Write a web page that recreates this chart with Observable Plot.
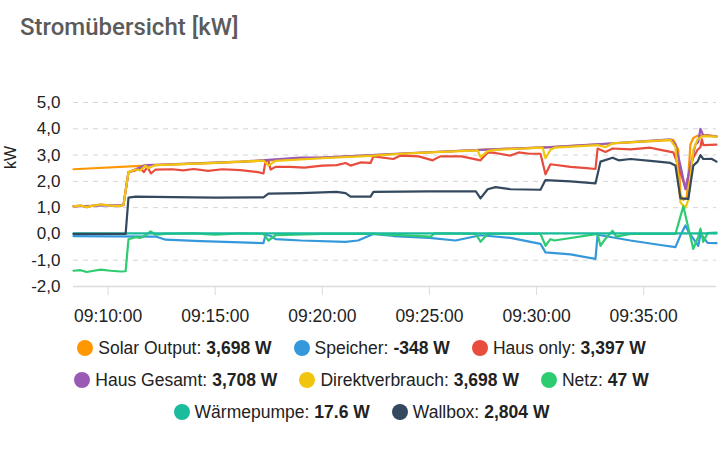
<!DOCTYPE html>
<html><head><meta charset="utf-8">
<script src="https://cdn.jsdelivr.net/npm/d3@7"></script>
<script src="https://cdn.jsdelivr.net/npm/@observablehq/plot@0.6"></script>
<style>
html,body{margin:0;padding:0;background:#fff;}
#card{position:relative;width:723px;height:450px;overflow:hidden;background:#fff;}
#title{position:absolute;left:20px;top:13px;font-family:Roboto,"Noto Sans",sans-serif;font-weight:500;font-size:24px;color:#5b5b5b;}
#ylab{position:absolute;left:1px;top:150px;transform:rotate(-90deg);transform-origin:center;font-family:"Liberation Sans",Arial,sans-serif;font-size:16px;color:#222;width:20px;text-align:center;}
#chart{position:absolute;left:0;top:85px;}
#legend{position:absolute;left:0;top:332px;width:723px;font-family:"Liberation Sans",Arial,sans-serif;font-size:17.5px;color:#222;}
.row{display:flex;justify-content:center;height:32px;align-items:center;}
.item{display:flex;align-items:center;margin:0 11px;}
.dot{width:16px;height:16px;border-radius:50%;margin-right:5px;}
.item b{margin-left:5px;}
</style></head>
<body><div id="card">
<div id="title">Stromübersicht [kW]</div>
<div id="ylab">kW</div>
<div id="chart"></div>
<div id="legend"></div>
</div>
<script>
const seriesNames = ["Solar Output","Speicher","Haus only","Haus Gesamt","Direktverbrauch","Netz","Wärmepumpe","Wallbox"];
const legendValues = ["3,698 W","-348 W","3,397 W","3,708 W","3,698 W","47 W","17.6 W","2,804 W"];
const colors = ["#FF9800","#3498DB","#E74C3C","#9B59B6","#F1C40F","#2ECC71","#1ABC9C","#34495E"];
const yTicks = [-2,-1,0,1,2,3,4,5];
const xDomain = ["09:08:23","09:38:24"];

const solar = [["09:08:23",2.46],["09:12:13",2.62],["09:16:11",2.74],["09:20:00",2.9],["09:23:39",3.05],["09:27:23",3.2],["09:30:39",3.3],["09:33:33",3.44],["09:35:47",3.55],["09:36:23",3.58],["09:36:37",3.2],["09:36:43",1.5],["09:36:51",1.3],["09:37:01",1.4],["09:37:11",3.4],["09:37:19",3.65],["09:37:31",3.74],["09:37:59",3.76],["09:38:24",3.70]];

const speicher = [["09:08:23",-0.08],["09:11:59",-0.1],["09:12:13",-0.1],["09:12:41",-0.22],["09:14:19",-0.27],["09:16:11",-0.32],["09:17:15",-0.35],["09:17:21",-0.03],["09:17:35",-0.08],["09:17:49",-0.2],["09:19:00",-0.25],["09:21:05",-0.3],["09:21:40",-0.25],["09:22:23",0.0],["09:23:19",-0.08],["09:25:00",-0.15],["09:26:13",-0.25],["09:27:23",-0.05],["09:28:47",-0.15],["09:30:11",-0.38],["09:30:25",-0.7],["09:31:35",-0.78],["09:32:45",-0.95],["09:32:51",-0.03],["09:34:23",-0.25],["09:35:47",-0.42],["09:36:29",-0.5],["09:36:43",-0.05],["09:36:57",0.32],["09:37:05",0.1],["09:37:19",-0.18],["09:37:33",-0.45],["09:37:39",0.0],["09:37:47",-0.12],["09:37:59",-0.34],["09:38:24",-0.35]];

const hausOnly = [["09:08:23",1.05],["09:08:43",1.08],["09:09:00",1.02],["09:09:11",1.06],["09:09:39",1.12],["09:10:07",1.08],["09:10:35",1.06],["09:10:43",1.1],["09:10:57",2.35],["09:11:17",2.42],["09:11:31",2.5],["09:11:40",2.35],["09:11:50",2.55],["09:12:00",2.3],["09:12:13",2.45],["09:13:00",2.46],["09:13:30",2.42],["09:14:00",2.47],["09:14:40",2.4],["09:15:20",2.46],["09:16:11",2.43],["09:17:00",2.35],["09:17:15",2.3],["09:17:21",2.78],["09:17:29",2.78],["09:17:35",2.45],["09:17:49",2.55],["09:18:30",2.55],["09:19:10",2.52],["09:20:00",2.6],["09:20:40",2.62],["09:21:05",2.7],["09:21:19",2.6],["09:21:47",2.72],["09:22:15",2.7],["09:22:23",2.95],["09:23:19",2.85],["09:23:39",2.98],["09:24:30",2.95],["09:25:09",2.8],["09:25:30",2.95],["09:26:30",2.95],["09:27:23",2.8],["09:27:43",3.1],["09:28:05",3.08],["09:28:47",2.98],["09:29:10",3.1],["09:29:40",3.05],["09:30:11",3.05],["09:30:25",2.27],["09:30:39",2.65],["09:31:35",2.55],["09:32:20",2.5],["09:32:45",2.47],["09:32:51",3.25],["09:33:13",3.12],["09:33:33",3.25],["09:34:23",3.22],["09:35:19",3.28],["09:35:47",3.2],["09:36:23",3.1],["09:36:37",2.6],["09:36:57",1.75],["09:37:11",2.5],["09:37:19",2.9],["09:37:31",3.2],["09:37:39",3.3],["09:37:43",3.6],["09:37:47",3.38],["09:38:24",3.40]];

const hausGesamt = [["09:08:23",1.05],["09:10:43",1.1],["09:10:57",2.35],["09:11:45",2.62],["09:12:13",2.63],["09:16:11",2.75],["09:18:59",2.9],["09:20:00",2.9],["09:23:39",3.06],["09:27:23",3.2],["09:30:39",3.3],["09:33:33",3.45],["09:36:15",3.6],["09:36:29",3.4],["09:36:43",2.6],["09:36:57",1.7],["09:37:11",2.6],["09:37:25",3.4],["09:37:33",3.5],["09:37:39",4.0],["09:37:47",3.75],["09:38:24",3.71]];

const direkt = [["09:08:23",1.05],["09:08:43",1.08],["09:09:00",1.02],["09:09:11",1.06],["09:09:39",1.12],["09:10:07",1.08],["09:10:35",1.06],["09:10:43",1.1],["09:10:57",2.35],["09:11:17",2.45],["09:11:31",2.42],["09:11:45",2.6],["09:11:52",2.5],["09:12:13",2.62],["09:15:00",2.7],["09:17:15",2.79],["09:17:29",2.6],["09:17:49",2.78],["09:20:00",2.88],["09:22:15",2.97],["09:23:39",3.05],["09:25:03",3.1],["09:27:15",3.18],["09:27:23",2.92],["09:27:43",3.15],["09:28:05",3.2],["09:30:17",3.28],["09:30:25",2.88],["09:30:39",3.2],["09:30:50",3.28],["09:32:51",3.38],["09:33:13",3.3],["09:33:33",3.45],["09:36:15",3.58],["09:36:29",3.3],["09:36:43",1.2],["09:36:57",1.0],["09:37:05",1.3],["09:37:19",3.2],["09:37:31",3.6],["09:37:47",3.72],["09:38:24",3.70]];

const netz = [["09:08:23",-1.4],["09:08:43",-1.38],["09:09:00",-1.45],["09:09:20",-1.4],["09:09:39",-1.36],["09:10:07",-1.4],["09:10:35",-1.43],["09:10:49",-1.42],["09:10:57",-0.2],["09:11:17",-0.12],["09:11:31",-0.15],["09:11:45",-0.05],["09:11:59",0.1],["09:12:13",-0.03],["09:12:41",0.0],["09:14:00",0.02],["09:15:00",-0.03],["09:16:11",0.02],["09:17:15",0.0],["09:17:29",-0.25],["09:17:49",-0.05],["09:20:00",0.0],["09:22:23",0.0],["09:25:03",-0.1],["09:25:15",0.02],["09:27:10",0.0],["09:27:23",-0.3],["09:27:43",0.0],["09:30:11",0.0],["09:30:25",-0.45],["09:30:39",-0.2],["09:30:50",-0.25],["09:32:51",0.0],["09:32:59",-0.45],["09:33:13",-0.18],["09:33:33",0.12],["09:33:43",-0.1],["09:34:23",0.0],["09:36:29",0.0],["09:36:51",1.05],["09:37:19",-0.57],["09:37:33",-0.1],["09:37:39",0.2],["09:37:47",-0.3],["09:37:59",0.03],["09:38:24",0.05]];

const waerme = [["09:08:23",0.02],["09:20:00",0.02],["09:38:24",0.02]];

const wallbox = [["09:08:23",0],["09:10:49",0],["09:10:57",1.38],["09:11:17",1.42],["09:13:00",1.4],["09:15:00",1.38],["09:17:15",1.39],["09:17:29",1.53],["09:19:00",1.55],["09:20:00",1.58],["09:20:40",1.6],["09:21:05",1.55],["09:21:19",1.42],["09:22:15",1.42],["09:22:23",1.6],["09:25:00",1.62],["09:27:10",1.62],["09:27:23",1.35],["09:27:43",1.7],["09:28:05",1.78],["09:28:47",1.7],["09:30:11",1.68],["09:30:25",2.05],["09:31:35",2.0],["09:32:45",1.92],["09:32:59",2.75],["09:33:33",2.9],["09:33:50",2.8],["09:34:23",2.85],["09:35:19",2.78],["09:36:15",2.7],["09:36:29",2.6],["09:36:43",1.35],["09:37:05",1.33],["09:37:19",2.6],["09:37:31",2.75],["09:37:39",3.0],["09:37:47",2.85],["09:38:10",2.86],["09:38:24",2.75]];

const seriesData = [solar, speicher, hausOnly, hausGesamt, direkt, netz, waerme, wallbox];

const T = s => new Date(`2024-01-01T${s}Z`);
const fmtY = d => d.toFixed(1).replace(".", ",");

const lineMarks = seriesData.map((arr, i) =>
  Plot.line(arr.map(([t, v]) => ({t: T(t), v})), {x: "t", y: "v", stroke: colors[i], strokeWidth: 2.2, strokeLinejoin: "round"})
);

const chart = Plot.plot({
  width: 723,
  height: 250,
  marginLeft: 73,
  marginRight: 7,
  marginTop: 17,
  marginBottom: 49,
  style: {fontFamily: "'Liberation Sans', Arial, sans-serif", fontSize: "17px", color: "#222", background: "transparent"},
  x: {type: "utc", domain: xDomain.map(T)},
  y: {domain: [-2, 5]},
  marks: [
    Plot.gridY(yTicks.filter(d => d > -2), {stroke: "#d4d4d4", strokeOpacity: 1, strokeDasharray: "5,5"}),
    Plot.ruleY([-2], {stroke: "#dcdcdc", strokeWidth: 1.5}),
    Plot.axisY(yTicks, {tickSize: 0, tickPadding: 13, tickFormat: fmtY, label: null, fontSize: 17}),
    Plot.axisX({ticks: d3.utcMinute.every(5), tickFormat: d3.utcFormat("%H:%M:%S"), tickSize: 9, tickPadding: 14, stroke: "#dcdcdc", label: null, fontSize: 17.5}),
    ...lineMarks
  ]
});
document.getElementById("chart").appendChild(chart);

const legend = document.getElementById("legend");
const rows = [[0,1,2],[3,4,5],[6,7]];
rows.forEach(r => {
  const row = document.createElement("div");
  row.className = "row";
  r.forEach(i => {
    const it = document.createElement("div");
    it.className = "item";
    const dot = document.createElement("span");
    dot.className = "dot";
    dot.style.background = colors[i];
    it.appendChild(dot);
    it.appendChild(document.createTextNode(seriesNames[i] + ":"));
    const b = document.createElement("b");
    b.textContent = legendValues[i];
    it.appendChild(b);
    row.appendChild(it);
  });
  legend.appendChild(row);
});
</script>
</body></html>
